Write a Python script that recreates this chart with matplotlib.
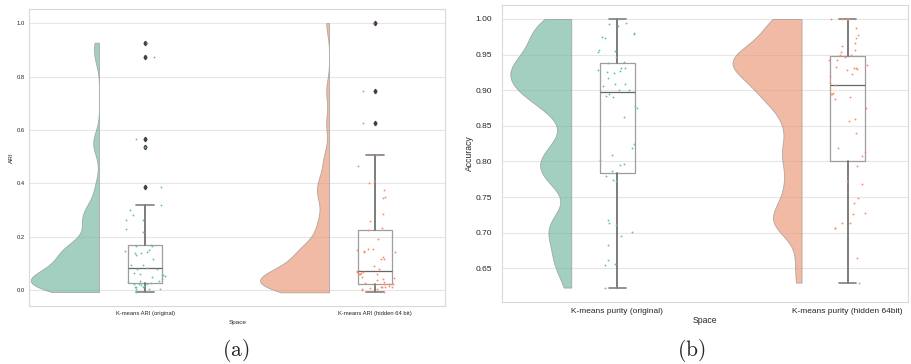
import numpy as np
import matplotlib
matplotlib.use("Agg")
import matplotlib.pyplot as plt
import seaborn as sns

sns.set_style("whitegrid")
plt.rcParams["font.family"] = ["Liberation Sans", "DejaVu Sans"]

# ---- data -------------------------------------------------------------
ari_groups = ["K-means ARI (original)", "K-means ARI (hidden 64 bit)"]
ari_original = [0.927, 0.874, 0.565, 0.535, 0.385, 0.32, 0.30, 0.281, 0.264,
                0.261, 0.229, 0.219, 0.167, 0.164, 0.164, 0.151, 0.145, 0.144,
                0.139, 0.137, 0.131, 0.115, 0.095, 0.095, 0.083, 0.080, 0.080,
                0.065, 0.059, 0.056, 0.054, 0.048, 0.041, 0.035, 0.035, 0.031,
                0.025, 0.0225, 0.0225, 0.0225, 0.020, 0.016, 0.0125, 0.010,
                0.010, 0.005, 0.0025, 0.0025, -0.008]
ari_hidden = [1.0, 0.746, 0.625, 0.506, 0.466, 0.409, 0.402, 0.376, 0.348,
              0.344, 0.285, 0.258, 0.234, 0.224, 0.192, 0.155, 0.155, 0.148,
              0.145, 0.144, 0.144, 0.125, 0.116, 0.116, 0.090, 0.078, 0.072,
              0.069, 0.068, 0.065, 0.060, 0.060, 0.059, 0.050, 0.045, 0.040,
              0.0375, 0.029, 0.027, 0.0225, 0.0215, 0.0225, 0.018, 0.015,
              0.0125, 0.0125, 0.010, 0.010, 0.0075, 0.005, 0.003, 0.0, -0.009]

purity_groups = ["K-means purity (original)", "K-means purity (hidden 64bit)"]
purity_original = [1.0, 0.995, 0.993, 0.990, 0.981, 0.979, 0.975, 0.973, 0.956,
                   0.955, 0.953, 0.947, 0.939, 0.938, 0.931, 0.931, 0.928, 0.927,
                   0.925, 0.924, 0.917, 0.909, 0.909, 0.906, 0.901, 0.900, 0.894,
                   0.892, 0.890, 0.878, 0.875, 0.863, 0.825, 0.819, 0.809, 0.802,
                   0.797, 0.795, 0.786, 0.780, 0.774, 0.773, 0.718, 0.713, 0.711,
                   0.701, 0.695, 0.683, 0.662, 0.656, 0.655, 0.623]
purity_hidden = [1.0, 1.0, 1.0, 1.0, 0.987, 0.978, 0.973, 0.966, 0.962, 0.956,
                 0.954, 0.950, 0.949, 0.946, 0.943, 0.942, 0.935, 0.933, 0.931,
                 0.931, 0.930, 0.928, 0.923, 0.920, 0.910, 0.907, 0.896, 0.895,
                 0.894, 0.891, 0.887, 0.875, 0.859, 0.857, 0.840, 0.819, 0.813,
                 0.808, 0.794, 0.773, 0.769, 0.749, 0.742, 0.727, 0.726, 0.713,
                 0.713, 0.707, 0.707, 0.664, 0.630]

palette = sns.color_palette("Set2", 2)


def gaussian_kde(values, grid, factor=0.2):
    v = np.asarray(values)
    bw = factor * v.std(ddof=1)
    z = (grid[:, None] - v[None, :]) / bw
    return np.exp(-0.5 * z ** 2).sum(axis=1) / (len(v) * bw * np.sqrt(2 * np.pi))


def raincloud(ax, groups, samples, fs, offset=0.2, max_width=0.3,
              box_width=0.15, jitter=0.09, pt_size=1.8):
    rng_state = np.random.RandomState(3)
    grids, dens = [], []
    for vals in samples:
        g = np.linspace(min(vals), max(vals), 300)
        grids.append(g)
        dens.append(gaussian_kde(vals, g))
    peak = max(d.max() for d in dens)
    for i, (g, d) in enumerate(zip(grids, dens)):
        fill = sns.desaturate(palette[i], 0.75)
        w = d / peak * max_width
        ax.fill_betweenx(g, i - offset - w, i - offset, facecolor=fill,
                         alpha=0.65, edgecolor="0.55", linewidth=0.6, zorder=2)
    ax.boxplot(samples, positions=range(len(samples)), widths=box_width,
               patch_artist=False, manage_ticks=False, whis=1.5,
               boxprops=dict(color="0.62", linewidth=0.9),
               whiskerprops=dict(color="0.4", linewidth=1.2),
               capprops=dict(color="0.5", linewidth=1.2),
               medianprops=dict(color="0.4", linewidth=0.9),
               flierprops=dict(marker="d", markersize=2.3, markerfacecolor="0.25",
                               markeredgecolor="0.25"),
               zorder=4)
    for i, vals in enumerate(samples):
        xs = i + rng_state.uniform(-jitter, jitter, len(vals))
        ax.scatter(xs, vals, s=pt_size, color=palette[i], linewidths=0,
                   zorder=5)
    ax.set_xticks(range(len(groups)))
    ax.set_xticklabels(groups, fontsize=fs)
    ax.grid(axis="x", visible=False)
    ax.grid(axis="y", color="0.9", linewidth=0.8)
    for sp in ax.spines.values():
        sp.set_color("0.85")
        sp.set_linewidth(0.8)
    ax.tick_params(axis="both", length=0, labelsize=fs, labelcolor="0.15")


fig = plt.figure(figsize=(9.12, 3.64), dpi=100)

# (a) adjusted Rand index
ax_a = fig.add_axes([29.3 / 912, 1 - 305.7 / 364, (445 - 29.3) / 912,
                     (305.7 - 9.3) / 364])
raincloud(ax_a, ari_groups, [ari_original, ari_hidden], fs=4.2)
ax_a.set_xlim(-0.503, 1.304)
ax_a.set_ylim(-0.059, 1.052)
ax_a.set_yticks([0.0, 0.2, 0.4, 0.6, 0.8, 1.0])
ax_a.set_ylabel("ARI", fontsize=4.6, color="0.15", labelpad=2)
ax_a.set_xlabel("Space", fontsize=4.6, color="0.15", labelpad=3)
ax_a.tick_params(axis="x", pad=4)
ax_a.tick_params(axis="y", pad=3)

# (b) clustering purity
ax_b = fig.add_axes([501.7 / 912, 1 - 302 / 364, (908 - 501.7) / 912,
                     (302 - 5) / 364])
raincloud(ax_b, purity_groups, [purity_original, purity_hidden], fs=6.0)
ax_b.set_xlim(-0.502, 1.262)
ax_b.set_ylim(0.6028, 1.0196)
ax_b.set_yticks(np.arange(0.65, 1.001, 0.05))
ax_b.yaxis.set_major_formatter(matplotlib.ticker.FormatStrFormatter("%.2f"))
ax_b.set_ylabel("Accuracy", fontsize=6.2, color="0.15", labelpad=1)
ax_b.set_xlabel("Space", fontsize=6.2, color="0.15", labelpad=1)
ax_b.tick_params(axis="x", pad=4)
ax_b.tick_params(axis="y", pad=7)

fig.text(236 / 912, 1 - 350 / 364, r"$\mathrm{(a)}$", fontsize=15.5,
         math_fontfamily="cm", ha="center", va="center")
fig.text(691 / 912, 1 - 350 / 364, r"$\mathrm{(b)}$", fontsize=15.5,
         math_fontfamily="cm", ha="center", va="center")

fig.savefig("out.png", dpi=100)
